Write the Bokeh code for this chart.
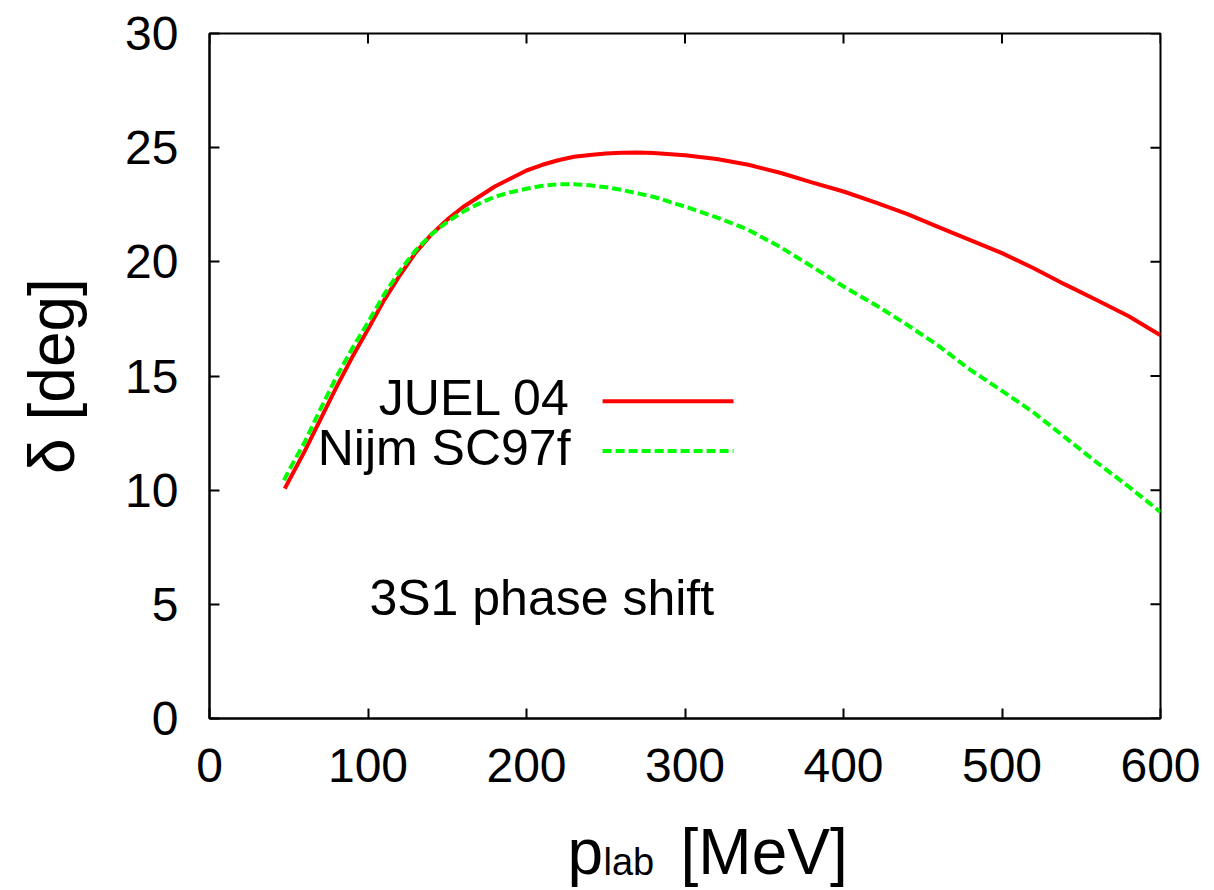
from bokeh.plotting import figure
from bokeh.models import Range1d, FixedTicker
from bokeh.layouts import column
from bokeh.core.properties import value
from bokeh.embed import file_html
from bokeh.resources import INLINE

# ---- data ----
p_juel = [47.5, 50, 60, 70, 80, 90, 100, 110, 120, 130, 140, 150, 160, 170, 180, 190, 200,
          210, 220, 230, 240, 250, 260, 270, 280, 300, 320, 340, 360, 380, 400, 420, 440,
          460, 480, 500, 520, 540, 560, 580, 600]
d_juel = [10.07, 10.4, 11.7, 13.1, 14.5, 15.82, 17.05, 18.3, 19.4, 20.4, 21.2, 21.85, 22.4,
          22.85, 23.3, 23.65, 24.0, 24.25, 24.45, 24.6, 24.68, 24.74, 24.78, 24.79, 24.77,
          24.67, 24.5, 24.25, 23.9, 23.48, 23.08, 22.6, 22.1, 21.52, 20.95, 20.38, 19.72,
          19.0, 18.32, 17.62, 16.78]

p_nijm = [47, 50, 60, 70, 80, 90, 100, 110, 120, 130, 140, 150, 160, 170, 180, 190, 200,
          210, 220, 230, 240, 250, 260, 270, 280, 300, 320, 340, 360, 380, 400, 420, 440,
          460, 480, 500, 520, 540, 560, 580, 600]
d_nijm = [10.43, 10.85, 12.1, 13.55, 14.95, 16.2, 17.35, 18.55, 19.6, 20.5, 21.2, 21.75,
          22.2, 22.55, 22.85, 23.05, 23.2, 23.33, 23.4, 23.4, 23.35, 23.27, 23.15, 23.0,
          22.85, 22.42, 21.95, 21.4, 20.65, 19.8, 18.92, 18.12, 17.25, 16.32, 15.27, 14.35,
          13.4, 12.3, 11.2, 10.15, 9.04]

x_ticks = [0, 100, 200, 300, 400, 500, 600]
y_ticks = [0, 5, 10, 15, 20, 25, 30]
series_names = ["JUEL 04", "Nijm SC97f"]
annotation_text = "3S1 phase shift"
y_label = "\u03b4 [deg]"
x_label_parts = ["p", "lab", "[MeV]"]

FONT = "Liberation Sans"
TICK_PX_FS = 48
TEXT_PX_FS = 50
LABEL_PX_FS = 64
SUB_PX_FS = 38
RED = "#ff0000"
GREEN = "#00ff00"
DASH = "9 4"
BASE_SHIFT = 0.4  # baseline correction (fraction of font size)

W = 1212
MAIN_H = 808
XLAB_H = 80
BL, BR, BT, BB = 209, 52, 33, 90

X0, X1, Y0, Y1 = 0, 600, 0, 30

p = figure(width=W, height=MAIN_H, output_backend="svg", toolbar_location=None, title=None,
           x_range=Range1d(X0, X1), y_range=Range1d(Y0, Y1),
           min_border_left=BL, min_border_right=BR, min_border_top=BT, min_border_bottom=BB)
p.background_fill_color = "white"
p.border_fill_color = "white"
p.outline_line_color = "black"
p.outline_line_width = 2
p.xgrid.visible = False
p.ygrid.visible = False

frame_w = W - BL - BR
frame_h = MAIN_H - BT - BB
TICK_PX = 10

for ax, ticks, standoff in ((p.below[0], x_ticks, 30), (p.left[0], y_ticks, 31)):
    ax.ticker = FixedTicker(ticks=ticks)
    ax.axis_line_color = "black"
    ax.axis_line_width = 2
    ax.major_tick_in = TICK_PX
    ax.major_tick_out = 0
    ax.major_tick_line_width = 2
    ax.major_tick_line_color = "black"
    ax.minor_tick_line_color = None
    ax.major_label_text_font = FONT
    ax.major_label_text_font_size = f"{TICK_PX_FS}px"
    ax.major_label_text_color = "black"
    ax.major_label_standoff = standoff

p.left[0].axis_label = y_label
p.left[0].axis_label_text_font = FONT
p.left[0].axis_label_text_font_size = f"{LABEL_PX_FS}px"
p.left[0].axis_label_text_font_style = "normal"
p.left[0].axis_label_text_color = "black"
p.left[0].axis_label_standoff = 34

# mirrored ticks on top and right (gnuplot style)
dy = TICK_PX * (Y1 - Y0) / frame_h
dx = TICK_PX * (X1 - X0) / frame_w
p.segment(x0=x_ticks, y0=[Y1] * len(x_ticks), x1=x_ticks, y1=[Y1 - dy] * len(x_ticks),
          line_color="black", line_width=2)
p.segment(x0=[X1] * len(y_ticks), y0=y_ticks, x1=[X1 - dx] * len(y_ticks), y1=y_ticks,
          line_color="black", line_width=2)

# curves
p.line(p_juel, d_juel, line_color=RED, line_width=4)
p.line(p_nijm, d_nijm, line_color=GREEN, line_width=4, line_dash=DASH)


def put_text(fig, x, y, txt, fs, align="left"):
    fig.text(x=[x], y=[y], text=[txt], text_align=align, text_baseline="alphabetic",
             text_font=value(FONT), text_font_size=f"{fs}px", text_color="black",
             y_offset=-BASE_SHIFT * fs)


# legend (gnuplot style: text left of sample)
leg_x0, leg_x1 = 248.0, 330.6
leg_text_x = 227.8
leg_rows = [(13.18, 13.89, RED, "solid"), (10.95, 11.71, GREEN, DASH)]
for name, (ty, ly, col, dash) in zip(series_names, leg_rows):
    put_text(p, leg_text_x, ty, name, TEXT_PX_FS, "right")
    p.segment(x0=[leg_x0], y0=[ly], x1=[leg_x1], y1=[ly], line_color=col, line_width=4,
              line_dash=dash)

put_text(p, 100.9, 4.42, annotation_text, TEXT_PX_FS)

# x-axis label strip (p_lab [MeV]) below the main plot, sharing the x range
q = figure(width=W, height=XLAB_H, output_backend="svg", toolbar_location=None, title=None,
           x_axis_type=None, y_axis_type=None,
           x_range=p.x_range, y_range=Range1d(0, XLAB_H),
           min_border_left=BL, min_border_right=BR, min_border_top=0, min_border_bottom=0)
q.xgrid.visible = False
q.ygrid.visible = False
q.outline_line_color = None
q.background_fill_color = "white"
q.border_fill_color = "white"
base_y = 11
put_text(q, 225.9, base_y, x_label_parts[0], LABEL_PX_FS)
put_text(q, 248.6, base_y, x_label_parts[1], SUB_PX_FS)
put_text(q, 297.2, base_y, x_label_parts[2], LABEL_PX_FS)

layout = column(p, q, spacing=0)
open("out.html", "w").write(file_html(layout, INLINE))
